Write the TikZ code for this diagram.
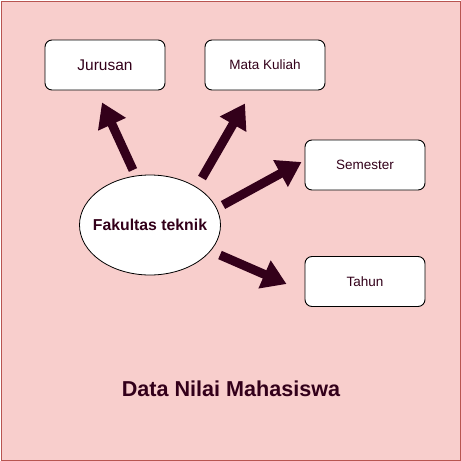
\documentclass[tikz,border=0pt]{standalone}
\usepackage{fontspec}
\setmainfont{Liberation Sans}
\usepackage{tikz}
\usetikzlibrary{arrows.meta,positioning,calc,shapes.geometric}

\definecolor{latar}{HTML}{F8CECC}
\definecolor{garis}{HTML}{B85450}
\definecolor{teks}{HTML}{33001A}

\tikzset{
  kotak/.style={draw=black,fill=white,rounded corners=7pt,line width=0.9pt,
    minimum width=120pt,minimum height=50pt,inner sep=0pt,text=teks,font=\fontsize{13.5}{15}\selectfont},
  panah/.style={line width=9pt,draw=teks,-{Triangle[length=24pt,width=29pt]}}
}

\begin{document}
\begin{tikzpicture}[x=1pt,y=-1pt]
  % 背景（枠）
  \useasboundingbox (0,0) rectangle (461,461);
  \draw[fill=latar,draw=garis,line width=1pt] (1,1) rectangle (460,460);

  % 中心の楕円
  \node[ellipse,draw=black,fill=white,line width=0.8pt,minimum width=141pt,minimum height=100pt,
    inner xsep=-7.5pt,inner ysep=0pt,text=teks,font=\fontsize{15.8}{18}\bfseries] (fak) at (150,225) {Fakultas teknik};

  % 四つの箱
  \node[kotak,font=\fontsize{15.5}{17}\selectfont] (jur) at (105,65) {Jurusan};
  \node[kotak] (mk) at (265,65) {Mata Kuliah};
  \node[kotak] (sem) at (365,165) {Semester};
  \node[kotak] (tah) at (365,281.5) {Tahun};

  % 太い矢印
  \draw[panah] ($(fak)+(-17,-55)$) -- ($(jur.south)+(-3,12)$);
  \draw[panah] ($(fak)+(52,-47)$) -- ($(mk.south)+(-20,13)$);
  \draw[panah] ($(fak)+(73,-20)$) -- ($(sem.west)+(-3,-3)$);
  \draw[panah] ($(fak)+(70,30)$) -- ($(tah.west)+(-18,2.5)$);

  % 表題
  \node[text=teks,font=\fontsize{21.6}{24}\bfseries] (judul) at (231,389) {Data Nilai Mahasiswa};
\end{tikzpicture}
\end{document}
